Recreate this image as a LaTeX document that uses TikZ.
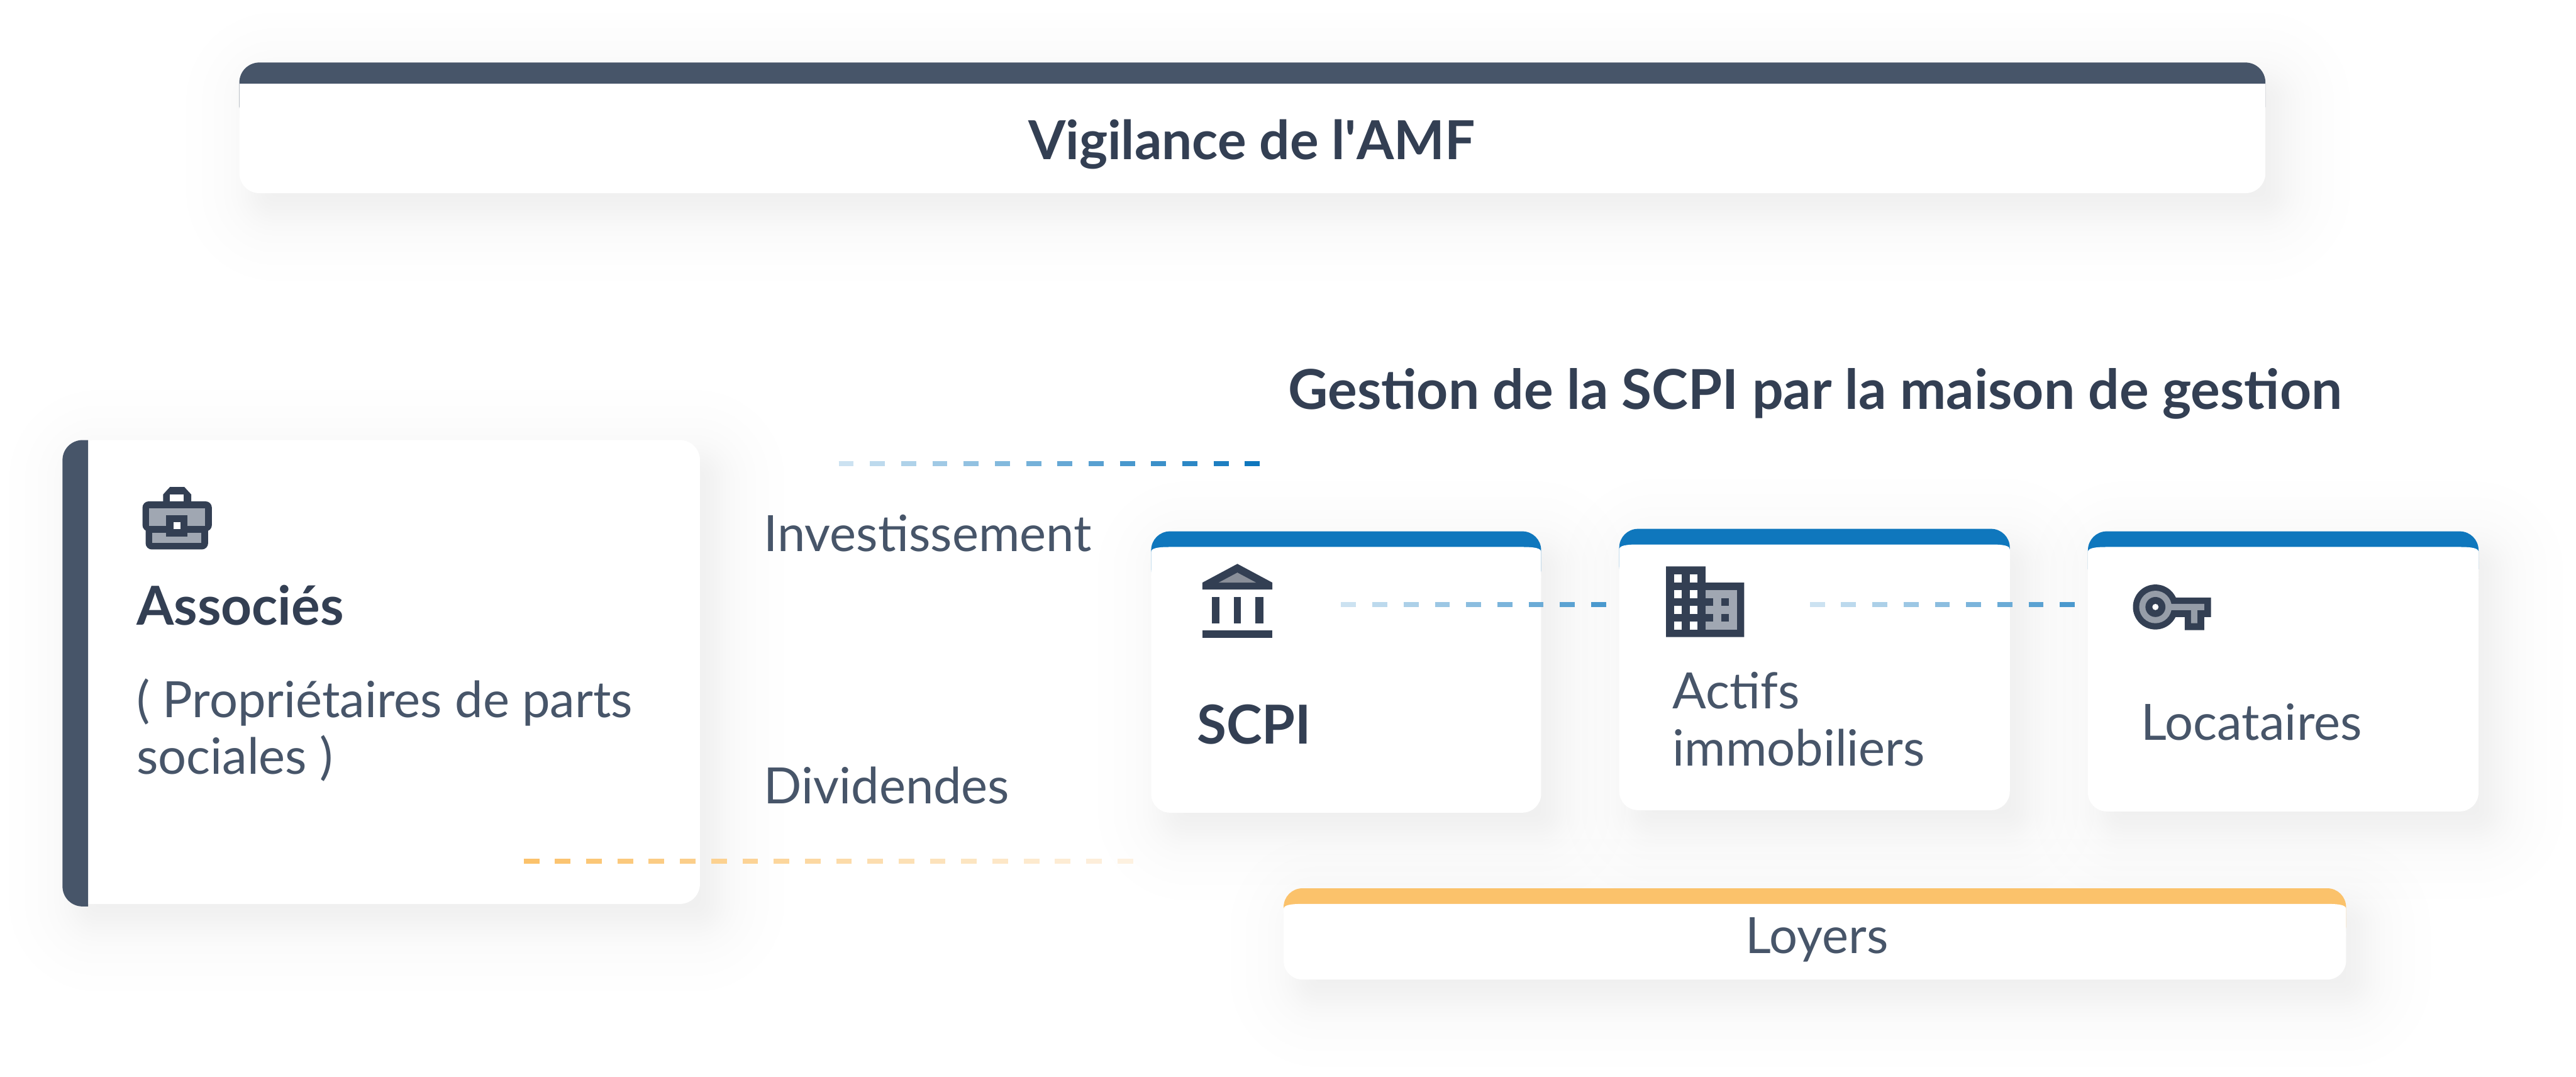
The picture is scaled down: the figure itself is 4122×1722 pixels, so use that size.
\documentclass[tikz,border=0pt]{standalone}
\usepackage{fontspec}
\setmainfont{Lato}
\usetikzlibrary{calc}
\definecolor{ink}{HTML}{333F53}
\definecolor{slate}{HTML}{475569}
\definecolor{bluebar}{HTML}{0F77BD}
\definecolor{bluepale}{HTML}{CCE2F1}
\definecolor{amber}{HTML}{FBC26B}
\definecolor{amberpale}{HTML}{FDF1E0}
\definecolor{icongrey}{HTML}{A0A7B2}
\definecolor{roofgrey}{HTML}{8A8F99}
\definecolor{keygrey}{HTML}{969DA8}
% soft shadow, thrown down and to the right
\newcommand{\softshadow}[4]{%
  \foreach \d in {110,85,65,50,38,30,23,17,12,7,2,-3,-9,-16,-24}{
    \pgfmathsetmacro{\rr}{max(6,16+\d/2)}
    \fill[black,fill opacity=0.004,rounded corners=\rr pt]
      (#1+25-\d,#2+30-\d) rectangle (#3+25+\d,#4+30+\d);
  }}
% card with a coloured cap and a softly arched white top
\newcommand{\capcard}[6]{% x0 y0 x1 y1 colour captop(white top offset)
  \softshadow{#1}{#2}{#3}{#4}
  \fill[#5,rounded corners=15pt] (#1,#2) rectangle (#3,#2+90);
  \fill[white] (#1,#2+#6+8) .. controls (#1,#2+#6+2) and (#1+10,#2+#6) .. (#1+30,#2+#6)
     -- (#3-30,#2+#6) .. controls (#3-10,#2+#6) and (#3,#2+#6+2) .. (#3,#2+#6+8)
     -- (#3,#2+#6+50) -- (#1,#2+#6+50) -- cycle;
  \fill[white,rounded corners=15pt] (#1,#2+#6+20) rectangle (#3,#4);
}
\newcommand{\gradedash}[5]{% start coordinate, count, first colour, last colour, dash length
  \foreach \i in {1,...,#2}{
    \pgfmathsetmacro{\pc}{100*(\i-1)/(#2-1)}
    \draw[dashpiece,#4!\pc!#3] ($(#1)+({(\i-1)*50},0)$) -- ($(#1)+({(\i-1)*50+#5},0)$);
  }}
\begin{document}
\begin{tikzpicture}[x=0.5pt,y=-0.5pt,
  title/.style={font=\fontsize{44}{52}\selectfont\bfseries,text=ink,inner sep=0,anchor=base west},
  titlesmall/.style={title,font=\fontsize{43}{52}\selectfont\bfseries},
  body/.style={font=\fontsize{40}{46}\selectfont,text=slate,inner sep=0,anchor=base west},
  dashpiece/.style={line width=4pt,line cap=butt}]
\useasboundingbox (0,0) rectangle (4122,1722);
\fill[white] (0,0) rectangle (4122,1722);
% top banner
\softshadow{383}{100}{3625}{309}
\fill[slate,rounded corners=16pt] (383,100) rectangle (3625,200);
\fill[white,rounded corners=16pt] (383,160) rectangle (3625,309);
\fill[white] (383,134) rectangle (3625,190);
% associes card
\softshadow{100}{704}{1120}{1446}
\fill[white,rounded corners=16pt] (120,704) rectangle (1120,1446);
\fill[white] (141,704) rectangle (190,1446);
\begin{scope}
\clip (90,700) rectangle (141,1460);
\fill[slate,rounded corners=16pt] (100,704) rectangle (200,1450);
\end{scope}
% process cards
\capcard{1842}{850}{2466}{1300}{bluebar}{25}
\capcard{2591}{846}{3216}{1296}{bluebar}{25}
\capcard{3341}{850}{3966}{1298}{bluebar}{25}
\capcard{2054}{1421}{3754}{1567}{amber}{25}
% texts
\node[titlesmall] (amf) at (1645,255) {Vigilance de l\textquotesingle AMF};
\node[title] (gest) at (2061,655) {Gestion de la SCPI par la maison de gestion};
\node[titlesmall] (assoc) at (218,1000) {Associés};
\node[body] (prop) at (218,1148) {( Propriétaires de parts};
\node[body] (soc) at (218,1238) {sociales )};
\node[titlesmall] (scpi) at (1915,1190) {SCPI};
\node[body] (act) at (2676,1134) {Actifs};
\node[body] (imm) at (2676,1225) {immobiliers};
\node[body] (loc) at (3426,1184) {Locataires};
\node[body] (loy) at (2793,1525) {Loyers};
\node[body] (inv) at (1222,882) {Investissement};
\node[body] (div) at (1222,1286) {Dividendes};
% connectors
\coordinate (invstart) at (1342,742);
\coordinate (divstart) at (838,1378);
\coordinate (scpistart) at (2146,967);
\coordinate (actstart) at (2896,967);
\gradedash{invstart}{14}{bluepale}{bluebar}{24}
\gradedash{divstart}{20}{amber}{amberpale}{25}
\gradedash{scpistart}{9}{bluepale}{bluebar!75!white}{24}
\gradedash{actstart}{9}{bluepale}{bluebar!75!white}{24}
% briefcase
\begin{scope}
\fill[ink] (261,802) -- (261,791) -- (272,779) -- (295,779) -- (306,791) -- (306,802) -- cycle;
\fill[white] (272,791) rectangle (294,802);
\fill[ink,rounded corners=5pt] (228,802) rectangle (339,850);
\fill[ink,rounded corners=5pt] (233,830) rectangle (333,879);
\fill[icongrey] (239,813) rectangle (328,841);
\fill[icongrey] (244,852) rectangle (322,868);
\fill[ink] (266,824) rectangle (300,858);
\fill[white] (278,835) rectangle (289,846);
\end{scope}
% bank
\begin{scope}
\fill[ink] (1924,932) -- (1980,902) -- (2036,932) -- (2036,943) -- (1924,943) -- cycle;
\fill[roofgrey] (1950,932) -- (1980,916) -- (2010,932) -- cycle;
\fill[ink] (1939,955) rectangle (1951,997);
\fill[ink] (1974,955) rectangle (1986,997);
\fill[ink] (2009,955) rectangle (2022,997);
\fill[ink] (1924,1008) rectangle (2036,1020);
\end{scope}
% building
\begin{scope}
\fill[ink] (2666,906) -- (2729,906) -- (2729,932) -- (2791,932) -- (2791,1019) -- (2666,1019) -- cycle;
\fill[icongrey] (2729,944) rectangle (2779,1007);
\foreach \yy in {919,944,969,994}{
  \fill[white] (2679,\yy) rectangle (2691,\yy+13);
  \fill[white] (2704,\yy) rectangle (2716,\yy+13);
}
\foreach \yy in {957,982}{
  \fill[ink] (2729,\yy) rectangle (2741,\yy+12);
  \fill[ink] (2754,\yy) rectangle (2766,\yy+12);
}
\end{scope}
% key
\begin{scope}
\fill[ink] (3449,971) circle[radius=36];
\fill[ink] (3480,956) -- (3538,956) -- (3538,987) -- (3527,987) -- (3527,1008) -- (3496,1008) -- (3496,987) -- (3480,987) -- cycle;
\fill[keygrey] (3449,971) circle[radius=26];
\fill[keygrey] (3470,966) -- (3527,966) -- (3527,976) -- (3516,976) -- (3516,997) -- (3506,997) -- (3506,976) -- (3470,976) -- cycle;
\fill[ink] (3449,971) circle[radius=16];
\fill[white] (3449,971) circle[radius=5];
\end{scope}
\end{tikzpicture}
\end{document}
